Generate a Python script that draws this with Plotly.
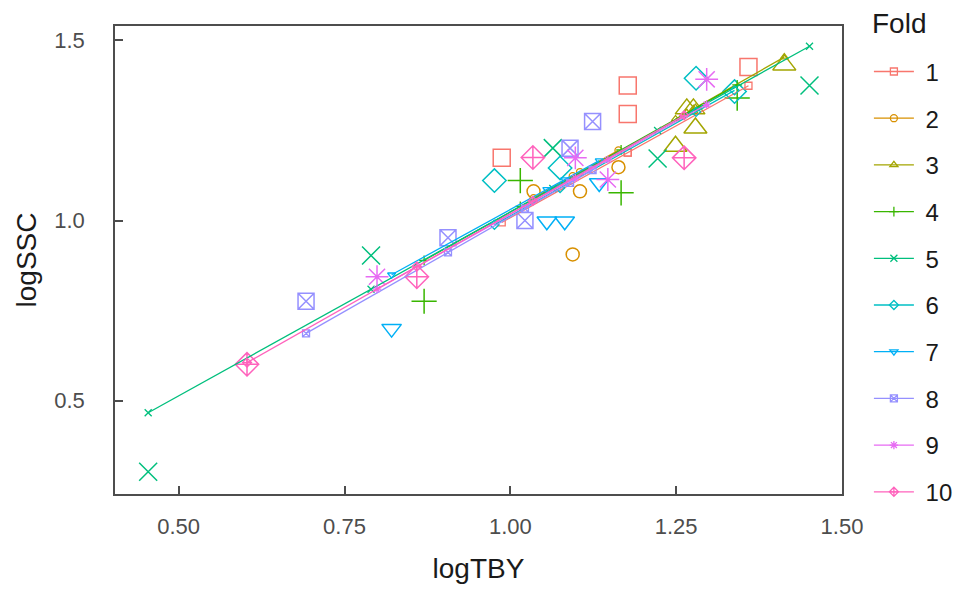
import numpy as np
import plotly.graph_objects as go

# ---- data ----
folds = ["1", "2", "3", "4", "5", "6", "7", "8", "9", "10"]

tby_f1 = [0.987, 1.177, 1.177, 1.359]
ssc_f1 = [1.174, 1.375, 1.296, 1.426]
tby_f2 = [1.035, 1.105, 1.094, 1.163]
ssc_f2 = [1.081, 1.081, 0.906, 1.148]
tby_f3 = [1.249, 1.266, 1.276, 1.279, 1.413]
ssc_f3 = [1.206, 1.310, 1.310, 1.257, 1.432]
tby_f4 = [0.870, 1.015, 1.167, 1.342]
ssc_f4 = [0.776, 1.111, 1.077, 1.340]
tby_f5 = [0.454, 0.790, 1.064, 1.222, 1.451]
ssc_f5 = [0.303, 0.903, 1.201, 1.172, 1.375]
tby_f6 = [0.976, 1.075, 1.280, 1.338]
ssc_f6 = [1.111, 1.146, 1.395, 1.358]
tby_f7 = [0.821, 1.055, 1.082, 1.134]
ssc_f7 = [0.700, 0.998, 0.998, 1.104]
tby_f8 = [0.692, 0.906, 1.022, 1.090, 1.124]
ssc_f8 = [0.776, 0.952, 1.000, 1.201, 1.275]
tby_f9 = [0.799, 1.098, 1.147, 1.296]
ssc_f9 = [0.844, 1.174, 1.114, 1.392]
tby_f10 = [0.603, 0.859, 1.034, 1.262]
ssc_f10 = [0.601, 0.844, 1.175, 1.174]

x_ticks = [0.50, 0.75, 1.00, 1.25, 1.50]
x_ticklabels = ["0.50", "0.75", "1.00", "1.25", "1.50"]
y_ticks = [0.5, 1.0, 1.5]
y_ticklabels = ["0.5", "1.0", "1.5"]

# ---- styles ----
colors = ["#F8766D", "#D89000", "#A3A500", "#39B600", "#00BF7D",
          "#00BFC4", "#00B0F6", "#9590FF", "#E76BF3", "#FF62BC"]
symbols = ["square-open", "circle-open", "triangle-up-open", "cross-thin-open",
           "x-thin-open", "diamond-open", "triangle-down-open", "square-x-open",
           "asterisk-open", "diamond-cross-open"]
big_sizes = [17, 13, 20, 18, 18, 18, 17, 16, 19, 18]
FONT = "Liberation Sans, Arial"

all_x = [tby_f1, tby_f2, tby_f3, tby_f4, tby_f5, tby_f6, tby_f7, tby_f8, tby_f9, tby_f10]
all_y = [ssc_f1, ssc_f2, ssc_f3, ssc_f4, ssc_f5, ssc_f6, ssc_f7, ssc_f8, ssc_f9, ssc_f10]

fig = go.Figure()

# observed points
for i, f in enumerate(folds):
    fig.add_trace(go.Scatter(
        x=all_x[i], y=all_y[i], mode="markers", showlegend=False,
        marker=dict(symbol=symbols[i], size=big_sizes[i], color=colors[i],
                    line=dict(color=colors[i], width=1.5)),
        hoverinfo="x+y"))

# cross-validation fitted lines: model fitted on the other folds
for i, f in enumerate(folds):
    tx = np.concatenate([np.array(all_x[j]) for j in range(len(folds)) if j != i])
    ty = np.concatenate([np.array(all_y[j]) for j in range(len(folds)) if j != i])
    slope, icpt = np.polyfit(tx, ty, 1)
    xs = np.sort(np.array(all_x[i]))
    fig.add_trace(go.Scatter(
        x=xs, y=icpt + slope * xs, mode="lines+markers", name="\u2008" + f,
        legendgroup=f,
        line=dict(color=colors[i], width=1.3),
        marker=dict(symbol=symbols[i], size=7, color=colors[i],
                    line=dict(color=colors[i], width=1.3))))

axis_common = dict(
    showline=True, linecolor="#4d4d4d", linewidth=1.6, mirror=True,
    ticks="inside", ticklen=8, tickcolor="#4d4d4d", tickwidth=1.6,
    showgrid=False, zeroline=False, automargin=True,
    tickfont=dict(family=FONT, size=22, color="#4d4d4d"),
)

fig.update_xaxes(range=[0.404, 1.50], tickvals=x_ticks, ticktext=x_ticklabels,
                 title=dict(text="logTBY", font=dict(family=FONT, size=28, color="#1a1a1a"), standoff=20),
                 ticklabelstandoff=12, **axis_common)
fig.update_yaxes(range=[0.241, 1.540], tickvals=y_ticks, ticktext=y_ticklabels,
                 title=dict(text="logSSC", font=dict(family=FONT, size=28, color="#1a1a1a"), standoff=9),
                 ticklabelstandoff=24, **axis_common)

fig.update_layout(
    width=963, height=590,
    margin=dict(l=107, r=129, t=18, b=104, autoexpand=False),
    paper_bgcolor="white", plot_bgcolor="white",
    font=dict(family=FONT, color="#1a1a1a"),
    legend=dict(
        font=dict(size=24, color="#1a1a1a"),
        x=1.037, xanchor="left", y=0.95, yanchor="top",
        tracegroupgap=12.5, itemwidth=40, maxheight=560,
        bgcolor="rgba(0,0,0,0)",
    ),
    showlegend=True,
    annotations=[dict(text="Fold", xref="paper", yref="paper",
                      x=1.0385, y=1.006, xanchor="left", yanchor="middle",
                      showarrow=False, font=dict(family=FONT, size=28, color="#1a1a1a"))],
)

fig.write_html("out.html")
